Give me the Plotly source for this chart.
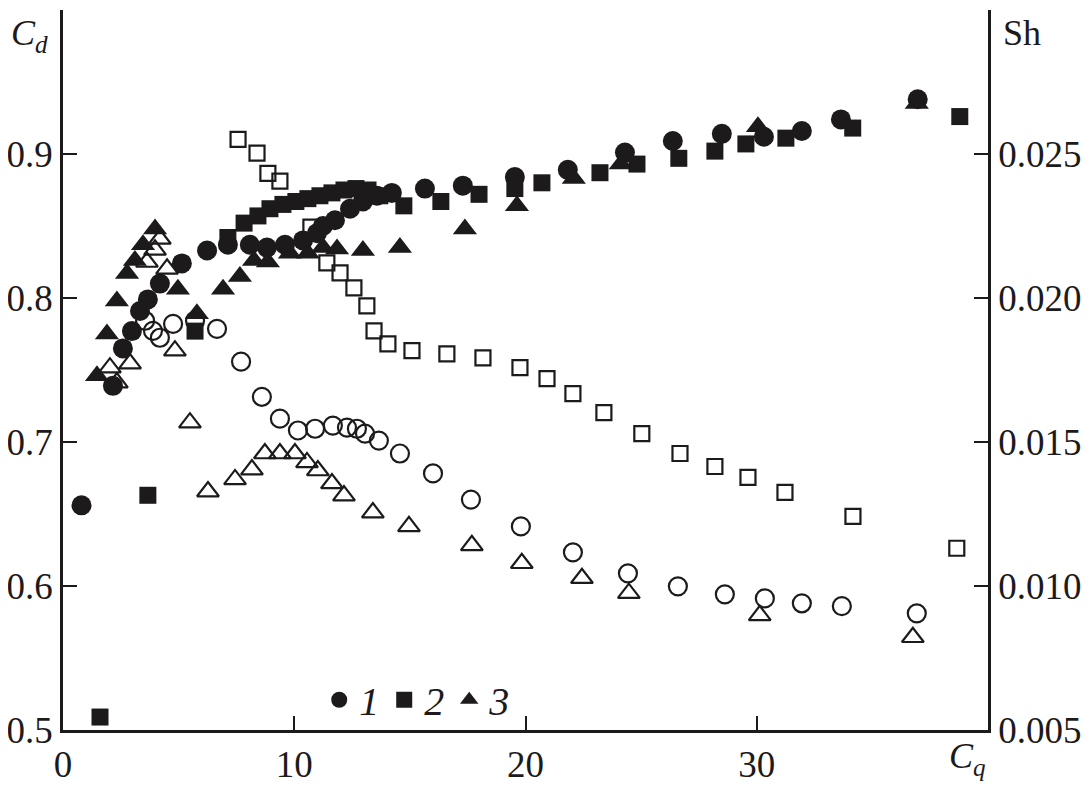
import plotly.graph_objects as go

# ---- Data ----
# Series 1: Cd (filled circles) and Sh (open circles)
cq1_cd = [0.8, 2.16, 2.59, 2.98, 3.33, 3.67, 4.19, 5.14, 6.23, 7.13, 8.08, 8.82, 9.60, 10.38, 10.98,
          11.24, 11.76, 12.41, 12.97, 13.58, 14.22, 15.65, 17.29, 19.54, 21.83, 24.30, 26.37,
          28.49, 30.31, 31.95, 33.64, 36.96]
cd1 = [0.656, 0.739, 0.765, 0.777, 0.791, 0.799, 0.810, 0.824, 0.833, 0.837, 0.837, 0.835, 0.837, 0.840,
       0.845, 0.850, 0.854, 0.862, 0.867, 0.871, 0.873, 0.876, 0.878, 0.884, 0.889, 0.901, 0.909,
       0.914, 0.912, 0.916, 0.924, 0.938]
cq1_sh = [3.55, 3.89, 4.19, 4.76, 5.71, 6.66, 7.70, 8.60, 9.38, 10.16, 10.90, 11.67, 12.28, 12.71,
          13.06, 13.66, 14.57, 16.00, 17.64, 19.80, 22.05, 24.43, 26.59, 28.62, 30.35, 31.95,
          33.68, 36.92]
sh1 = [0.01921, 0.01886, 0.01862, 0.01910, 0.01921, 0.01893, 0.01779, 0.01657, 0.01581, 0.01540,
       0.01546, 0.01557, 0.01550, 0.01546, 0.01529, 0.01505, 0.01460, 0.01391, 0.01300, 0.01207,
       0.01117, 0.01044, 0.00999, 0.00971, 0.00957, 0.00940, 0.00930, 0.00905]

# Series 2: Cd (filled squares) and Sh (open squares)
cq2_cd = [1.60, 3.67, 5.71, 7.13, 7.83, 8.43, 8.95, 9.51, 10.07, 10.59, 11.11, 11.63, 12.15, 12.67,
          13.19, 13.70, 14.74, 16.34, 17.99, 19.54, 20.71, 23.22, 24.82, 26.63, 28.19, 29.53,
          31.26, 34.15, 38.78]
cd2 = [0.509, 0.663, 0.777, 0.842, 0.852, 0.857, 0.862, 0.865, 0.867, 0.869, 0.871, 0.873, 0.875,
       0.876, 0.875, 0.871, 0.864, 0.867, 0.872, 0.876, 0.880, 0.887, 0.893, 0.897, 0.902, 0.907,
       0.911, 0.918, 0.926]
cq2_sh = [7.57, 8.39, 8.86, 9.38, 10.72, 11.41, 11.98, 12.58, 13.14, 13.45, 14.05, 15.09, 16.60,
          18.16, 19.76, 20.93, 22.05, 23.39, 25.03, 26.68, 28.19, 29.62, 31.22, 34.16, 38.65]
sh2 = [0.02551, 0.02503, 0.02433, 0.02406, 0.02246, 0.02122, 0.02087, 0.02035, 0.01973, 0.01886,
       0.01841, 0.01817, 0.01806, 0.01792, 0.01758, 0.01720, 0.01668, 0.01602, 0.01529, 0.01460,
       0.01415, 0.01377, 0.01325, 0.01242, 0.01131]

# Series 3: Cd (filled triangles) and Sh (open triangles)
cq3_cd = [1.47, 1.90, 2.33, 2.77, 3.11, 3.46, 3.98, 4.97, 5.79, 6.92, 7.65, 8.26, 8.86, 9.81, 10.59,
          11.24, 11.85, 12.97, 14.57, 17.38, 19.63, 22.09, 24.12, 30.05, 36.92]
cd3 = [0.746, 0.775, 0.798, 0.817, 0.826, 0.837, 0.848, 0.806, 0.789, 0.806, 0.815, 0.826, 0.825,
       0.831, 0.831, 0.835, 0.834, 0.833, 0.835, 0.848, 0.864, 0.883, 0.893, 0.919, 0.935]
cq3_sh = [2.03, 2.33, 2.90, 3.63, 3.98, 4.19, 4.50, 4.84, 5.49, 6.27, 7.44, 8.17, 8.73, 9.38,
          10.03, 10.55, 11.02, 11.63, 12.15, 13.40, 14.96, 17.68, 19.84, 22.44, 24.47, 30.13, 36.75]
sh3 = [0.01758, 0.01706, 0.01772, 0.02125, 0.02167, 0.02205, 0.02101, 0.01817, 0.01567, 0.01328,
       0.01370, 0.01404, 0.01460, 0.01460, 0.01460, 0.01429, 0.01401, 0.01356, 0.01314, 0.01255,
       0.01207, 0.01141, 0.01079, 0.01027, 0.00975, 0.00898, 0.00822]

x_ticks = [0, 10, 20, 30]
cd_ticks = [0.5, 0.6, 0.7, 0.8, 0.9]
cd_tick_text = ["0.5", "0.6", "0.7", "0.8", "0.9"]
sh_ticks = [0.005, 0.010, 0.015, 0.020, 0.025]
sh_tick_text = ["0.005", "0.010", "0.015", "0.020", "0.025"]
legend_names = ["1", "2", "3"]

INK = "#1c1a1b"
FONT = "Liberation Serif"

fig = go.Figure()

# open markers (Sh, right axis)
fig.add_trace(go.Scatter(x=cq2_sh, y=sh2, yaxis="y2", mode="markers", showlegend=False,
                         marker=dict(symbol="square-open", size=15, color=INK, line=dict(width=2.2, color=INK))))
fig.add_trace(go.Scatter(x=cq1_sh, y=sh1, yaxis="y2", mode="markers", showlegend=False,
                         marker=dict(symbol="circle-open", size=18, color=INK, line=dict(width=2.2, color=INK))))
fig.add_trace(go.Scatter(x=cq3_sh, y=sh3, yaxis="y2", mode="markers", showlegend=False,
                         marker=dict(symbol="triangle-up-open", size=19, color=INK, line=dict(width=2.2, color=INK))))

# filled markers (Cd, left axis)
fig.add_trace(go.Scatter(x=cq1_cd, y=cd1, mode="markers", name="<i>" + legend_names[0] + "</i>",
                         marker=dict(symbol="circle", size=20, color=INK, line=dict(width=0))))
fig.add_trace(go.Scatter(x=cq2_cd, y=cd2, mode="markers", name="<i>" + legend_names[1] + "</i>",
                         marker=dict(symbol="square", size=17, color=INK, line=dict(width=0))))
fig.add_trace(go.Scatter(x=cq3_cd, y=cd3, mode="markers", name="<i>" + legend_names[2] + "</i>",
                         marker=dict(symbol="triangle-up", size=21, color=INK, line=dict(width=0))))

axis_common = dict(showgrid=False, zeroline=False, showline=True, linecolor=INK, linewidth=2.5,
                   ticks="inside", ticklen=14, tickwidth=2, tickcolor=INK, automargin=False,
                   tickfont=dict(family=FONT, size=37, color=INK))

# the page body has an 8 px margin, so the figure is sized to fit inside the window
fig.update_layout(
    width=1076, height=776,
    margin=dict(l=55, r=96, t=2, b=54, autoexpand=False),
    paper_bgcolor="white", plot_bgcolor="white",
    font=dict(family=FONT, color=INK),
    xaxis=dict(range=[0, 40], tickvals=x_ticks, ticktext=[str(v) for v in x_ticks], **axis_common),
    yaxis=dict(range=[0.5, 1.0], tickvals=cd_ticks, ticktext=cd_tick_text, **axis_common),
    yaxis2=dict(range=[0.005, 0.030], tickvals=sh_ticks, ticktext=sh_tick_text, overlaying="y",
                side="right", **axis_common),
    showlegend=True,
    legend=dict(orientation="h", x=0.277, y=0.042, xanchor="left", yanchor="middle",
                font=dict(family=FONT, size=40, color=INK), bgcolor="rgba(0,0,0,0)",
                itemwidth=30, tracegroupgap=0),
    annotations=[
        dict(text="<i>C<sub>d</sub></i>", xref="paper", yref="paper", x=-0.036, y=0.999,
             xanchor="center", yanchor="top", showarrow=False, font=dict(family=FONT, size=36, color=INK)),
        dict(text="Sh", xref="paper", yref="paper", x=1.037, y=0.999,
             xanchor="center", yanchor="top", showarrow=False, font=dict(family=FONT, size=36, color=INK)),
        dict(text="<i>C<sub>q</sub></i>", xref="paper", yref="paper", x=0.978, y=-0.04,
             xanchor="center", yanchor="middle", showarrow=False, font=dict(family=FONT, size=36, color=INK)),
    ],
)

fig.write_html("out.html")
